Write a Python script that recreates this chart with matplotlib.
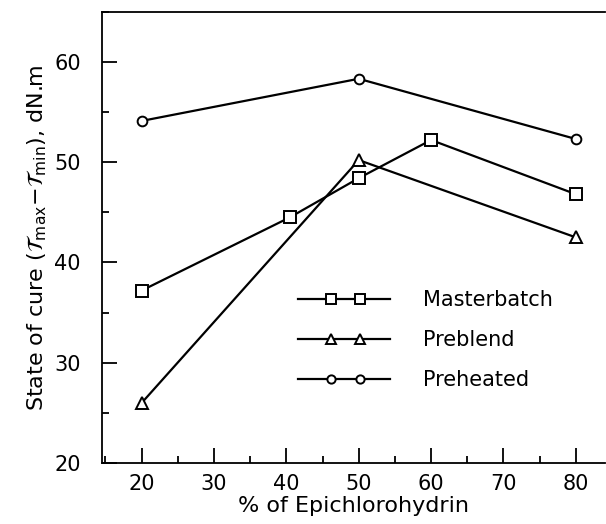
import numpy as np
import matplotlib
matplotlib.use("Agg")
import matplotlib.pyplot as plt
from matplotlib.ticker import MultipleLocator
from matplotlib.legend_handler import HandlerLine2DCompound

# data
mb_x = [20, 40.5, 50, 60, 80]
mb_y = [37.2, 44.5, 48.4, 52.2, 46.8]
pb_x = [20, 50, 80]
pb_y = [26.0, 50.2, 42.5]
ph_x = [20, 50, 80]
ph_y = [54.1, 58.3, 52.3]

plt.rcParams['font.family'] = ['DejaVu Sans']
plt.rcParams['mathtext.fontset'] = 'dejavusans'


class TwoMarkHandler(HandlerLine2DCompound):
    # line across the full handle, two markers near the middle
    def get_xdata(self, legend, xdescent, ydescent, width, height, fontsize):
        xdata = np.array([-xdescent, -xdescent + width])
        xm = -xdescent + width * np.array([0.36, 0.68])
        return xdata, xm


fig = plt.figure(figsize=(6.06, 5.24), dpi=100)
ax = fig.add_axes([0.168, 0.116, 0.83, 0.862])

kw = dict(color='black', lw=1.6, mfc='white', mec='black', mew=1.4)
ax.plot(mb_x, mb_y, marker='s', ms=8, label='Masterbatch', **kw)
ax.plot(pb_x, pb_y, marker='^', ms=8, label='Preblend', **kw)
ax.plot(ph_x, ph_y, marker='o', ms=7, label='Preheated', **kw)

ax.set_xlim(14.5, 84)
ax.set_ylim(20, 65)
ax.set_xticks([20, 30, 40, 50, 60, 70, 80])
ax.xaxis.set_minor_locator(MultipleLocator(5))
ax.yaxis.set_major_locator(MultipleLocator(10))
ax.yaxis.set_minor_locator(MultipleLocator(5))
ax.tick_params(which='major', direction='in', length=11, width=1.3, labelsize=15)
ax.tick_params(which='minor', direction='in', length=5, width=1.3)
ax.tick_params(axis='x', which='major', pad=8)
ax.tick_params(axis='y', which='major', pad=15)
ax.spines['right'].set_visible(False)
for s in ['left', 'bottom', 'top']:
    ax.spines[s].set_linewidth(1.3)

ax.set_xlabel('% of Epichlorohydrin', fontsize=16, labelpad=1)
ax.set_ylabel(r'State of cure ($\mathcal{T}_{\rm max}$$-$$\mathcal{T}_{\rm min}$), dN.m',
              fontsize=16, labelpad=4)

leg = ax.legend(loc='upper left', bbox_to_anchor=(0.39, 0.383), frameon=False,
                borderaxespad=0, borderpad=0, markerscale=0.85,
                handlelength=4.4, handletextpad=1.6, labelspacing=0.95,
                fontsize=15, handler_map={plt.Line2D: TwoMarkHandler(numpoints=2)})

plt.savefig('out.png', dpi=100)
